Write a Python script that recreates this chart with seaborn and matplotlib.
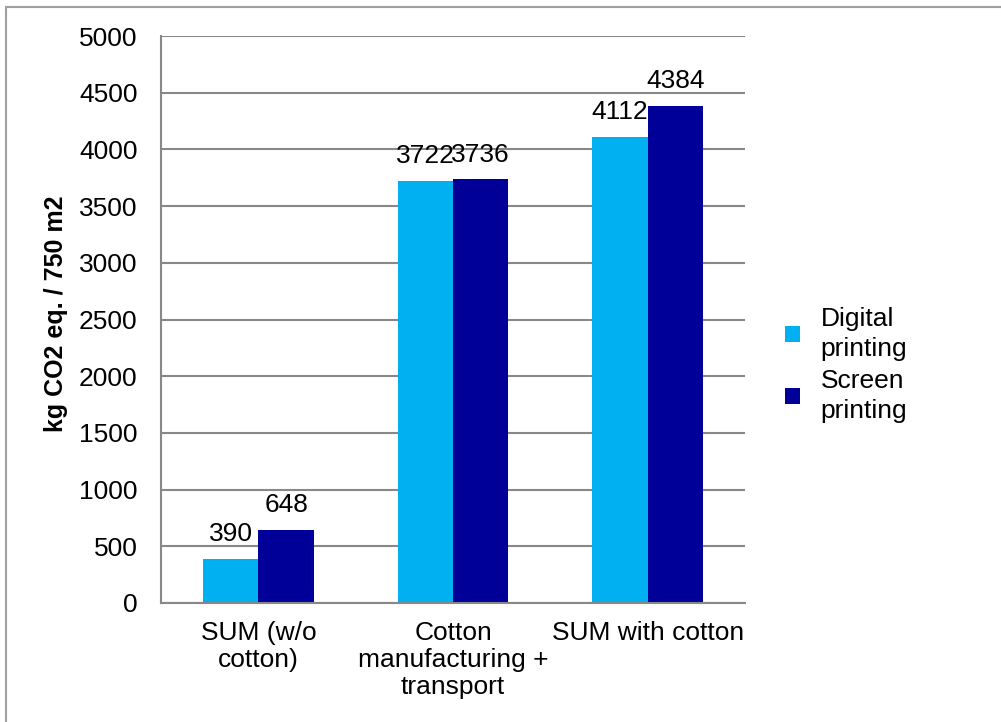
import matplotlib
matplotlib.use("Agg")
import matplotlib.pyplot as plt
from matplotlib.lines import Line2D
import seaborn as sns
import pandas as pd

categories = ["SUM (w/o\ncotton)", "Cotton\nmanufacturing +\ntransport", "SUM with cotton"]
series = ["Digital\nprinting", "Screen\nprinting"]
digital = [390, 3722, 4112]
screen = [648, 3736, 4384]
colors = ["#00B0F0", "#000099"]

df = pd.DataFrame({
    "category": categories * 2,
    "series": [series[0]] * 3 + [series[1]] * 3,
    "value": digital + screen,
})

sns.set_theme(style="white")
plt.rcParams['font.family'] = ['Liberation Sans', 'DejaVu Sans']
plt.rcParams['text.color'] = 'black'
plt.rcParams['xtick.color'] = 'black'
plt.rcParams['ytick.color'] = 'black'
plt.rcParams['axes.labelcolor'] = 'black'

fig = plt.figure(figsize=(10.01, 7.22), dpi=100)
ax = fig.add_axes([161/1001, 1-603/722, (745-161)/1001, (603-36)/722])

sns.barplot(data=df, x="category", y="value", hue="series", palette=colors,
            width=0.57, gap=0, saturation=1, ax=ax, legend=True, edgecolor="none")

for c in ax.containers:
    ax.bar_label(c, labels=[f"{int(v)}" for v in c.datavalues], padding=9, fontsize=19, color="black")

ax.set_ylim(0, 5000)
ax.set_yticks(range(0, 5001, 500))
ax.set_xlim(-0.5, 2.5)
ax.set_xticks([-0.5, 0.5, 1.5, 2.5], minor=False)
ax.set_xticklabels([])
ax.set_xticks([0, 1, 2], minor=True)
ax.set_xticklabels(categories, minor=True, fontsize=19, linespacing=1.15)
ax.tick_params(axis="x", which="minor", length=0, pad=13)
ax.tick_params(axis="x", which="major", length=8, width=1.5, color="#888888", direction="out")
ax.tick_params(axis="y", length=8, width=1.5, color="#888888", labelcolor="black", direction="out", labelsize=19, pad=9)
ax.grid(axis="y", color="#888888", linewidth=1.5)
ax.set_axisbelow(True)
for s in ["top", "right"]:
    ax.spines[s].set_visible(False)
for s in ["left", "bottom"]:
    ax.spines[s].set_color("#888888")
    ax.spines[s].set_linewidth(1.5)
ax.set_xlabel("")
ax.set_ylabel("kg CO2 eq. / 750 m2", fontsize=18, fontweight="bold", color="black")
ax.yaxis.set_label_coords(-0.16, 0.51)

leg = ax.legend(loc="center left", bbox_to_anchor=(1.028, 0.42), frameon=False, fontsize=19,
                handlelength=0.55, handleheight=0.55, handletextpad=0.8, labelspacing=0.3)
for t in leg.get_texts():
    t.set_linespacing(1.32)
    t.set_color("black")

fig.add_artist(Line2D([6/1001, 1], [1-7/722, 1-7/722], color="#A0A0A0", linewidth=1.5))
fig.add_artist(Line2D([6/1001, 6/1001], [0, 1-7/722], color="#A0A0A0", linewidth=1.5))

fig.savefig("out.png", dpi=100)
